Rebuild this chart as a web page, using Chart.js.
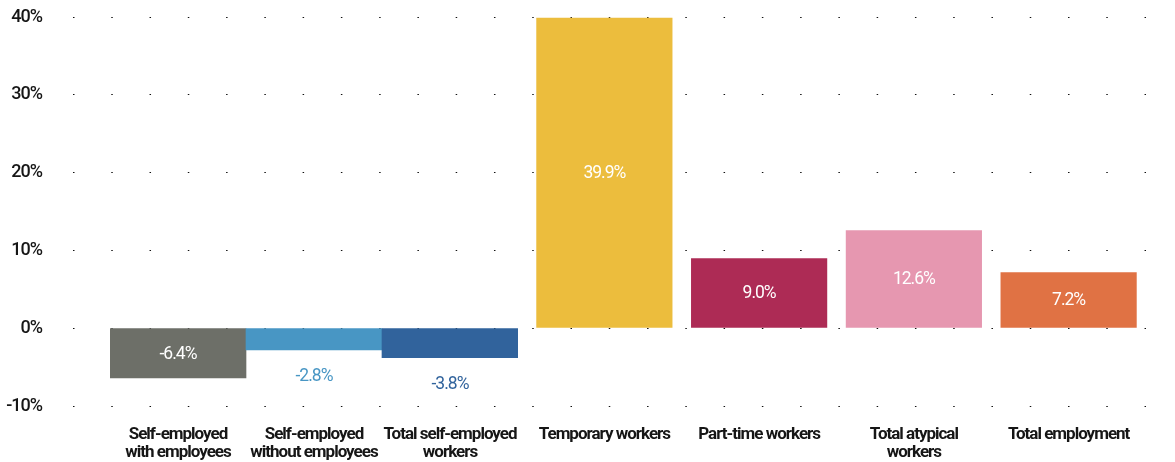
<!DOCTYPE html>
<html>
<head>
<meta charset="utf-8">
<script src="https://cdn.jsdelivr.net/npm/chart.js@4/dist/chart.umd.min.js"></script>
<style>
  html, body { margin: 0; padding: 0; background: #fff; }
  #wrap { width: 1175px; height: 462px; position: relative; }
</style>
</head>
<body>
<div id="wrap"><canvas id="chart_employmentChange"></canvas></div>
<script>
// self-employed group (drawn as one block of touching bars)
var selfLabels = [
    ['Self-employed', 'with employees'],
    ['Self-employed', 'without employees'],
    ['Total self-employed', 'workers']
];
var selfValues = [-6.4, -2.8, -3.8];
var selfColors = ['#6d6f68', '#4896c4', '#31639c'];

// remaining categories
var otherLabels = ['Temporary workers', 'Part-time workers', ['Total atypical', 'workers'], 'Total employment'];
var otherValues = [39.9, 9.0, 12.6, 7.2];
var otherColors = ['#ecbd3d', '#ad2b55', '#e697b0', '#e07244'];

var yMin = -10;
var yMax = 40;
var yStep = 10;

var FONT = "Roboto, 'Liberation Sans', Arial, sans-serif";
var INK = '#161616';
var TRACKING = '-1px';

var valueLabels = {
    id: 'valueLabels',
    afterDatasetsDraw: function (chart) {
        var ctx = chart.ctx;
        ctx.save();
        ctx.font = '17.5px ' + FONT;
        ctx.textAlign = 'center';
        ctx.textBaseline = 'middle';
        chart.data.datasets.forEach(function (ds, i) {
            chart.getDatasetMeta(i).data.forEach(function (bar, j) {
                var v = ds.data[j];
                var txt = v.toFixed(1) + '%';
                var h = Math.abs(bar.y - bar.base);
                if (h > 40) {
                    ctx.fillStyle = '#ffffff';
                    ctx.fillText(txt, bar.x, (bar.y + bar.base) / 2 + 1);
                } else {
                    // short bars get the label outside, in the bar's colour
                    ctx.fillStyle = ds.backgroundColor[j];
                    var y = v < 0 ? bar.y + 27 : bar.y - 27;
                    ctx.fillText(txt, bar.x, y);
                }
            });
        });
        ctx.restore();
    }
};

// tight tracking for all canvas text; re-applied because resizing resets the context
var tracking = {
    id: 'tracking',
    beforeUpdate: function (chart) { chart.ctx.letterSpacing = TRACKING; },
    beforeDraw: function (chart) { chart.ctx.letterSpacing = TRACKING; }
};

var whiteBg = {
    id: 'whiteBg',
    beforeDraw: function (chart) {
        var ctx = chart.canvas.getContext('2d');
        ctx.save();
        ctx.globalCompositeOperation = 'destination-over';
        ctx.fillStyle = 'white';
        ctx.fillRect(0, 0, chart.canvas.width, chart.canvas.height);
        ctx.restore();
    }
};

function noPadding(scale) {
    scale.paddingLeft = 0;
    scale.paddingRight = 0;
    scale.paddingTop = 0;
    scale.paddingBottom = 0;
}

function fixHeight(scale) {
    scale.height = 56;
    noPadding(scale);
}

var catTicks = {
    color: INK,
    font: { family: FONT, size: 17, weight: 'bold', lineHeight: 1.03 },
    padding: 12,
    maxRotation: 0,
    minRotation: 0,
    autoSkip: false
};

function spacer(w) {
    return {
        type: 'category',
        position: 'bottom',
        labels: [''],
        stack: 'cats',
        stackWeight: w,
        ticks: { display: false },
        grid: { display: false },
        border: { display: false },
        afterFit: fixHeight
    };
}

var chart_employmentChange = new Chart(document.getElementById('chart_employmentChange'), {
    type: 'bar',
    data: {
        datasets: [
            {
                label: 'Self-employed',
                xAxisID: 'x1',
                data: selfValues,
                backgroundColor: selfColors,
                grouped: false,
                barPercentage: 1,
                categoryPercentage: 1
            },
            {
                label: 'Other',
                xAxisID: 'x2',
                data: otherValues,
                backgroundColor: otherColors,
                grouped: false,
                barPercentage: 0.88,
                categoryPercentage: 1
            }
        ]
    },
    options: {
        animation: false,
        responsive: true,
        maintainAspectRatio: false,
        layout: { padding: { top: 17, right: 29, bottom: 0, left: 0 } },
        plugins: {
            legend: { display: false },
            tooltip: { enabled: false }
        },
        scales: {
            xa: spacer(37),
            x1: {
                type: 'category',
                position: 'bottom',
                labels: selfLabels,
                stack: 'cats',
                stackWeight: 408,
                offset: true,
                grid: { display: false },
                border: { display: false },
                ticks: catTicks,
                afterFit: fixHeight
            },
            xb: spacer(9),
            x2: {
                type: 'category',
                position: 'bottom',
                labels: otherLabels,
                stack: 'cats',
                stackWeight: 619,
                offset: true,
                grid: { display: false },
                border: { display: false },
                ticks: catTicks,
                afterFit: fixHeight
            },
            y: {
                min: yMin,
                max: yMax,
                grid: { color: '#111', lineWidth: 1, drawTicks: false },
                border: { display: false, dash: [1.5, 36.77] },
                ticks: {
                    stepSize: yStep,
                    padding: 31,
                    color: INK,
                    font: { family: FONT, size: 18, weight: '500' },
                    callback: function (v) { return v + '%'; }
                },
                afterFit: function (scale) {
                    scale.width = 73;
                    noPadding(scale);
                }
            }
        }
    },
    plugins: [tracking, valueLabels, whiteBg]
});
</script>
</body>
</html>
